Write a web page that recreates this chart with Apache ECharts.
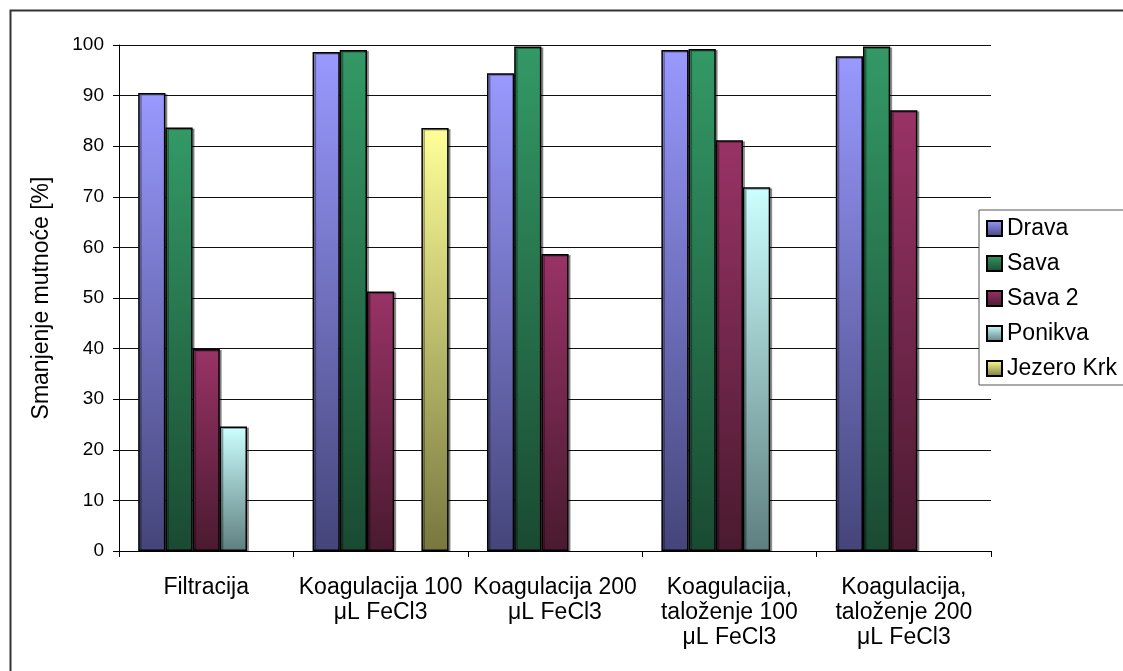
<!DOCTYPE html>
<html>
<head>
<meta charset="utf-8">
<script src="https://cdn.jsdelivr.net/npm/echarts@6/dist/echarts.min.js"></script>
<style>html,body{margin:0;padding:0;background:#fff;}#c{width:1123px;height:671px;}</style>
</head>
<body>
<div id="c"></div>
<script>
const categories = [
  "Filtracija",
  "Koagulacija 100\nμL FeCl3",
  "Koagulacija 200\nμL FeCl3",
  "Koagulacija,\ntaloženje 100\nμL FeCl3",
  "Koagulacija,\ntaloženje 200\nμL FeCl3"
];
const seriesNames = ["Drava", "Sava", "Sava 2", "Ponikva", "Jezero Krk"];
const drava = [90.5, 98.6, 94.4, 99.0, 97.8];
const sava = [83.7, 99.0, 99.7, 99.2, 99.7];
const sava2 = [39.9, 51.3, 58.7, 81.2, 87.1];
const ponikva = [24.6, '-', '-', 71.9, '-'];
const jezeroKrk = ['-', 83.6, '-', '-', '-'];
const yTicks = [0, 10, 20, 30, 40, 50, 60, 70, 80, 90, 100];

const values = [drava, sava, sava2, ponikva, jezeroKrk];
const topColors = ['#9999FF', '#339966', '#993366', '#CCFFFF', '#FFFF99'];
const bottomColors = ['#45457A', '#1A4A32', '#4A1A30', '#5F7F7F', '#77773F'];
const FONT = '"Liberation Sans", Arial, sans-serif';

const chart = echarts.init(document.getElementById('c'), null, {renderer: 'canvas'});
chart.setOption({
  animation: false,
  backgroundColor: '#fff',
  graphic: [{
    type: 'rect', left: 8, top: 8, silent: true,
    shape: {x: 0, y: 0, width: 1200, height: 700},
    style: {fill: 'none', stroke: '#333', lineWidth: 2}
  }],
  grid: {left: 119, right: 132, top: 45, bottom: 120, containLabel: false},
  legend: {
    orient: 'vertical', left: 979, top: 210,
    padding: [7, 10, 5, 7],
    borderColor: '#555', borderWidth: 1,
    backgroundColor: '#fff',
    itemWidth: 15, itemHeight: 15, itemGap: 12,
    icon: 'rect',
    textStyle: {fontFamily: FONT, fontSize: 23, color: '#000', lineHeight: 22, padding: [0, 0, 0, 0]},
    data: seriesNames
  },
  xAxis: {
    type: 'category',
    data: categories,
    axisLine: {lineStyle: {color: '#000', width: 1}},
    axisTick: {show: true, length: 6, lineStyle: {color: '#000'}},
    axisLabel: {fontFamily: FONT, fontSize: 23, color: '#000', margin: 24, lineHeight: 25, interval: 0}
  },
  yAxis: {
    type: 'value', min: 0, max: 100, interval: 10,
    name: 'Smanjenje mutnoće [%]',
    nameLocation: 'middle', nameGap: 66,
    nameTextStyle: {fontFamily: FONT, fontSize: 23, color: '#000'},
    axisLine: {show: true, lineStyle: {color: '#000', width: 1}},
    axisTick: {show: true, length: 6, lineStyle: {color: '#000'}},
    axisLabel: {fontFamily: FONT, fontSize: 19, color: '#000', margin: 15,
      formatter: v => yTicks.includes(v) ? String(v) : ''},
    splitLine: {show: true, lineStyle: {color: '#111', width: 1}}
  },
  series: seriesNames.map((name, i) => ({
    name: name,
    type: 'bar',
    data: values[i],
    barGap: '0%',
    barCategoryGap: '22%',
    itemStyle: {
      color: new echarts.graphic.LinearGradient(0, 0, 0, 1, [
        {offset: 0, color: topColors[i]},
        {offset: 1, color: bottomColors[i]}
      ]),
      borderColor: '#000',
      borderWidth: 1.5,
      shadowColor: 'rgba(0,0,0,0.35)',
      shadowOffsetX: 2,
      shadowOffsetY: 1,
      shadowBlur: 0
    }
  }))
});
</script>
</body>
</html>
